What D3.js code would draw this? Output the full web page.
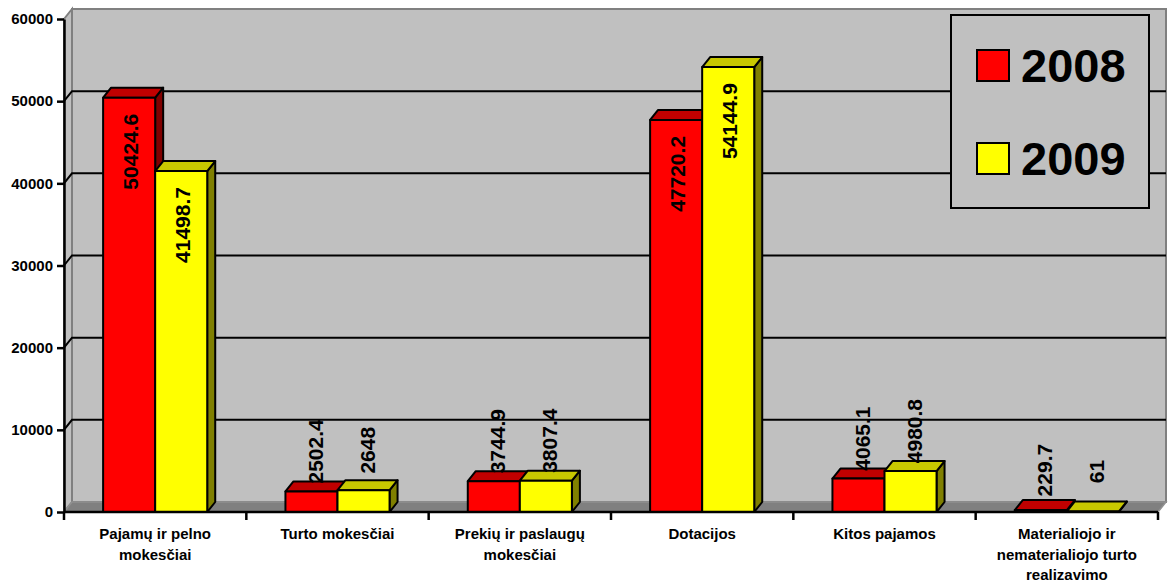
<!DOCTYPE html>
<html><head><meta charset="utf-8">
<script src="https://cdn.jsdelivr.net/npm/d3@7"></script>
<style>body{margin:0;background:#fff}svg{display:block}text{font-family:"Liberation Sans",Arial,sans-serif}</style>
</head><body><svg id="c" width="1173" height="585"></svg>
<script>
const categories = ["Pajamų ir pelno\nmokesčiai","Turto mokesčiai","Prekių ir paslaugų\nmokesčiai","Dotacijos","Kitos pajamos","Materialiojo ir\nnematerialiojo turto\nrealizavimo"];
const series2008 = [50424.6, 2502.4, 3744.9, 47720.2, 4065.1, 229.7];
const series2009 = [41498.7, 2648, 3807.4, 54144.9, 4980.8, 61];
const years = ["2008","2009"];
const yTicks = [0,10000,20000,30000,40000,50000,60000];
const gridValues = [10000,20000,30000,40000,50000];

const svg = d3.select("#c");
const DX = 8, DY = -10;
const y = d3.scaleLinear().domain([0,60000]).range([512,19]);
const x = d3.scaleBand().domain(categories).range([64,1158]);
const bw = x.bandwidth();
const barW = bw*0.2855, pad = (bw - 2*barW)/2;
const x0 = x.range()[0], x1 = x.range()[1];
const yb = y(0), yt = y(60000);

const faces = [
  {front:"#FF0000", top:"#C00000", side:"#800000"},
  {front:"#FFFF00", top:"#C8C800", side:"#808000"}
];

const g = svg.append("g");
g.append("polygon").attr("points",[[x0+DX,yt+DY],[x1+DX,yt+DY],[x1+DX,yb+DY],[x0+DX,yb+DY]].join(" "))
  .attr("fill","#C0C0C0").attr("stroke","#808080").attr("stroke-width",2);
g.append("polygon").attr("points",[[x0,yt],[x0+DX,yt+DY],[x0+DX,yb+DY],[x0,yb]].join(" "))
  .attr("fill","#C0C0C0").attr("stroke","#808080").attr("stroke-width",2);
g.append("polygon").attr("points",[[x0,yb],[x0+DX,yb+DY],[x1+DX,yb+DY],[x1,yb]].join(" "))
  .attr("fill","#808080").attr("stroke","#909090").attr("stroke-width",1.5);
gridValues.forEach(v=>{
  g.append("polyline").attr("points",[[x0,y(v)],[x0+DX,y(v)+DY],[x1+DX,y(v)+DY]].join(" "))
   .attr("fill","none").attr("stroke","#000").attr("stroke-width",2);
});

const series = [series2008, series2009];
const bars = svg.append("g");
const labels = [];
categories.forEach((c,i)=>{
  series.forEach((s,k)=>{
    const v = s[i];
    const bx = x(c) + pad + k*barW;
    const ty = y(v);
    const f = faces[k];
    const gg = bars.append("g").attr("stroke","#000").attr("stroke-width",2).attr("stroke-linejoin","round");
    gg.append("polygon").attr("points",[[bx+barW,ty],[bx+barW+DX,ty+DY],[bx+barW+DX,yb+DY],[bx+barW,yb]].join(" ")).attr("fill",f.side);
    gg.append("polygon").attr("points",[[bx,ty],[bx+DX,ty+DY],[bx+barW+DX,ty+DY],[bx+barW,ty]].join(" ")).attr("fill",f.top);
    gg.append("rect").attr("x",bx).attr("y",ty).attr("width",barW).attr("height",yb-ty).attr("fill",f.front);
    const inside = v > 30000;
    labels.push({v, cx: bx + barW/2 + (inside?1:DX/2), cy: inside ? ty + 54 : ty - 40});
  });
});

svg.append("g").selectAll("text").data(labels).join("text")
  .attr("transform",d=>`translate(${d.cx},${d.cy}) rotate(-90)`)
  .attr("text-anchor","middle").attr("dominant-baseline","central")
  .attr("font-size",21).attr("font-weight","bold").attr("fill","#000")
  .text(d=>String(d.v));

const ya = svg.append("g").attr("transform",`translate(${x0},0)`)
  .call(d3.axisLeft(y).tickValues(yTicks).tickSize(7).tickSizeOuter(0).tickPadding(4).tickFormat(d3.format("d")));
ya.select(".domain").attr("stroke","#000").attr("stroke-width",2.5);
ya.selectAll(".tick line").attr("stroke","#000").attr("stroke-width",2.5);
ya.selectAll(".tick text").attr("font-size",15).attr("font-weight","bold").attr("fill","#000")
  .style("font-family",'"Liberation Sans",Arial,sans-serif');

svg.append("line").attr("x1",x0).attr("x2",x1).attr("y1",yb).attr("y2",yb).attr("stroke","#000").attr("stroke-width",2.5);
const bounds = categories.map(c=>x(c)).concat([x1]);
svg.append("g").selectAll("line").data(bounds).join("line")
  .attr("x1",d=>d).attr("x2",d=>d).attr("y1",yb).attr("y2",yb+8).attr("stroke","#000").attr("stroke-width",2.5);
const cl = svg.append("g").selectAll("text").data(categories).join("text")
  .attr("x",d=>x(d)+bw/2).attr("y",539).attr("text-anchor","middle")
  .attr("font-size",15).attr("font-weight","bold").attr("fill","#000");
cl.each(function(d){
  const t = d3.select(this);
  d.split("\n").forEach((ln,j)=>{
    t.append("tspan").attr("x",x(d)+bw/2).attr("y",539+j*20.5).text(ln);
  });
});

const lg = svg.append("g");
lg.append("rect").attr("x",951).attr("y",15).attr("width",198).attr("height",193)
  .attr("fill","#C0C0C0").attr("stroke","#000").attr("stroke-width",2);
years.forEach((yr,k)=>{
  const yy = 50 + k*93;
  lg.append("rect").attr("x",977).attr("y",yy).attr("width",32).attr("height",31)
    .attr("fill",faces[k].front).attr("stroke","#000").attr("stroke-width",2);
  lg.append("text").attr("x",1021).attr("y",yy+32).attr("font-size",47).attr("font-weight","bold")
    .attr("fill","#000").text(yr);
});
</script></body></html>
